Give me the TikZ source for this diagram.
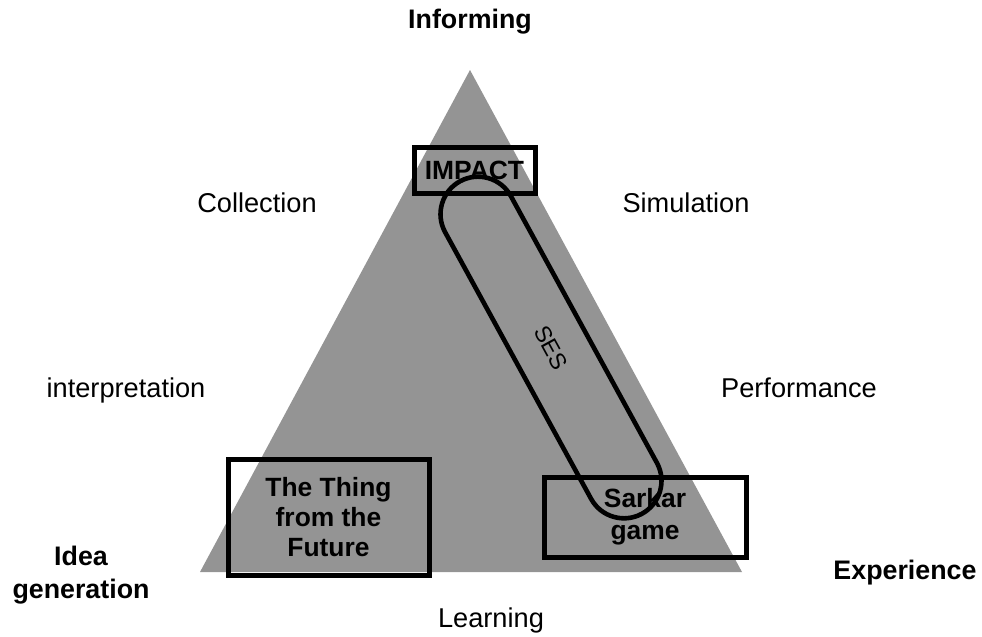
\documentclass[tikz,border=0pt]{standalone}
\usepackage{fontspec}
\setmainfont{Liberation Sans}
\definecolor{trigray}{RGB}{148,148,148}
\tikzset{
	lbl/.style={font=\fontsize{13.6}{15}\selectfont, anchor=base, inner sep=0pt},
	head/.style={lbl, font=\fontsize{13.4}{16.5}\selectfont\bfseries},
	casebox/.style={draw, line width=2.5pt, align=center, inner sep=0pt,
		font=\fontsize{13.2}{15}\selectfont\bfseries},
}
\begin{document}
\begin{tikzpicture}[x=0.5pt, y=-0.5pt]
			\useasboundingbox (0,0) rectangle (982,637);
			% the triangle
			\coordinate (top) at (470,70);
			\coordinate (left) at (200,572);
			\coordinate (right) at (742,572);
			\fill[trigray] (top) -- (right) -- (left) -- cycle;
			% corners and sides
			\node[head] (inform) at (470,28) {Informing};
			\node[head, align=center] (idea) at (81,598) {Idea\\generation};
			\node[head] (exper) at (905,579) {Experience};
			\node[lbl] (coll) at (257,213) {Collection};
			\node[lbl] (simu) at (686,213) {Simulation};
			\node[lbl] (interp) at (126,397) {interpretation};
			\node[lbl] (perf) at (799,397) {Performance};
			\node[lbl] (learn) at (491,627) {Learning};
			% cases
			\node[casebox, minimum width=60.5pt, minimum height=23pt] (impact) at (474.5,170) {IMPACT};
			\node[casebox, minimum width=100.5pt, minimum height=58pt] (thing) at (328.5,517) {The Thing\\from the\\Future};
			\node[casebox, minimum width=101pt, minimum height=40pt, font=\fontsize{13.2}{16}\selectfont\bfseries] (sarkar) at (645,517) {Sarkar\\game};
			\node[draw, line width=2.3pt, rounded corners=18.75pt, minimum width=189.5pt, minimum height=37.5pt,
				rotate=-61.3, font=\fontsize{11.5}{13}\selectfont] (ses) at (551,347.5) {SES};
		\end{tikzpicture}
\end{document}
